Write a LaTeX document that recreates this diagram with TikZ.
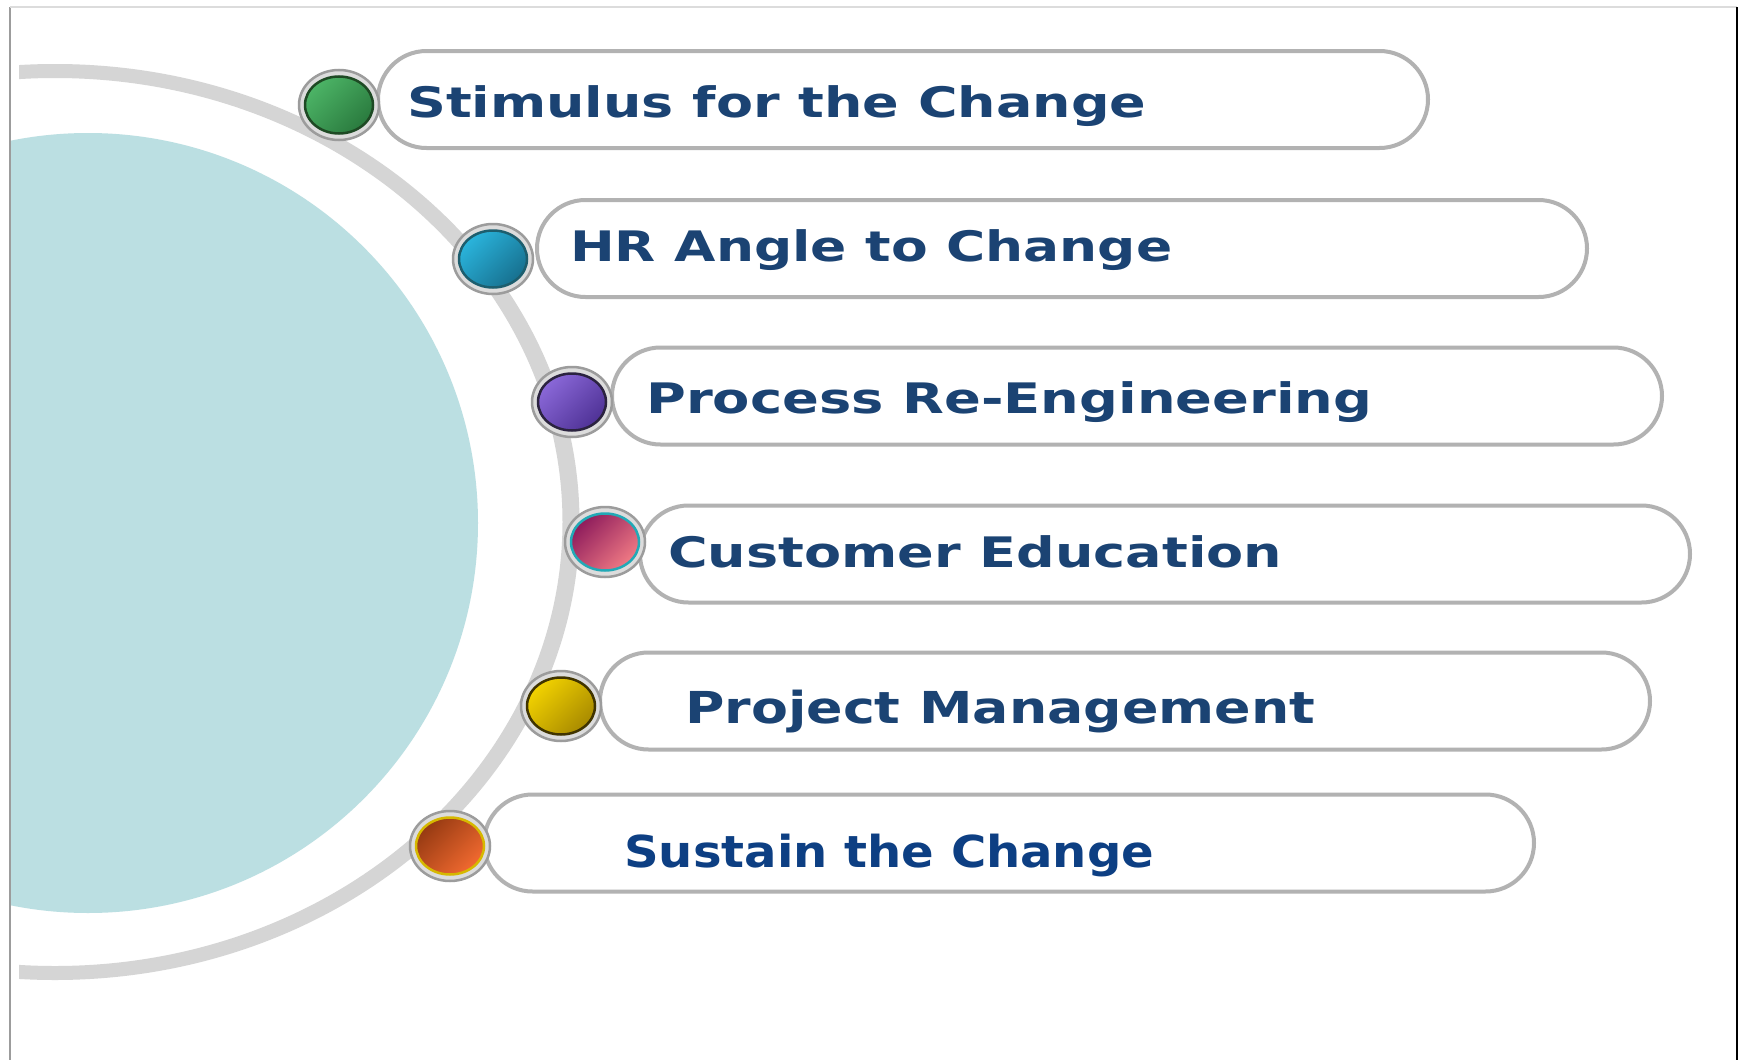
\documentclass[tikz,border=0pt]{standalone}
\usepackage{fontspec}
\usepackage{graphicx}
\setmainfont{DejaVu Sans}
\usetikzlibrary{shapes.geometric,shapes.misc}

\definecolor{discteal}{HTML}{BBDFE2}
\definecolor{arcgray}{HTML}{D5D5D5}
\definecolor{pillgray}{HTML}{B2B2B2}
\definecolor{ringfill}{HTML}{DCDCDC}
\definecolor{ringedge}{HTML}{9C9C9C}
\definecolor{navy}{HTML}{1B4373}
\definecolor{navyb}{HTML}{0D3F83}
% bullet colours: light, dark, rim
\definecolor{gA}{HTML}{4CB466}\definecolor{gB}{HTML}{2A7A3E}\definecolor{gR}{HTML}{1E4A24}
\definecolor{bA}{HTML}{2AB4DC}\definecolor{bB}{HTML}{17708F}\definecolor{bR}{HTML}{1D5E6E}
\definecolor{vA}{HTML}{8A68D8}\definecolor{vB}{HTML}{4F3296}\definecolor{vR}{HTML}{2B2340}
\definecolor{mA}{HTML}{8E1C5C}\definecolor{mB}{HTML}{F07A84}\definecolor{mR}{HTML}{22A9B6}
\definecolor{yA}{HTML}{F2D200}\definecolor{yB}{HTML}{A88A00}\definecolor{yR}{HTML}{403400}
\definecolor{oA}{HTML}{963A12}\definecolor{oB}{HTML}{F26A30}\definecolor{oR}{HTML}{D6B800}

% stretch a label horizontally to a given width, keeping its height
\newcommand{\fitw}[2]{\resizebox{#1}{\height}{#2}}

\tikzset{
  pill/.style={rounded rectangle, draw=pillgray, line width=4pt, fill=white,
    minimum width=1050pt, minimum height=97pt, inner sep=0pt},
  ring/.style={ellipse, fill=ringfill, draw=ringedge, line width=2.5pt,
    minimum width=80pt, minimum height=70pt, inner sep=0pt},
  ball/.style n args={3}{ellipse, minimum width=68pt, minimum height=57pt,
    inner sep=0pt, draw=#3, line width=2.5pt,
    top color=#1, bottom color=#2, shading angle=45},
  lbl/.style={anchor=base west, inner sep=0pt, text=navy,
    font=\bfseries\fontsize{42}{50}\selectfont},
  lblb/.style={lbl, font=\bfseries\fontsize{44}{52}\selectfont},
}

\begin{document}
\begin{tikzpicture}[x=1pt, y=-1pt]
  \useasboundingbox (0,0) rectangle (1741,1060);
  \fill[white] (0,0) rectangle (1741,1060);

  % pale disc on the left
  \begin{scope}
    \clip (10,0) rectangle (1741,1060);
    \fill[discteal] (88,523) circle[radius=390pt];
  \end{scope}

  % grey guide arc
  \begin{scope}
    \clip (19,0) rectangle (1741,1060);
    \fill[arcgray, even odd rule]
      (55,522) ellipse[x radius=524.5pt, y radius=458pt]
      (55,522) ellipse[x radius=507.5pt, y radius=444pt];
  \end{scope}

  % frame
  \draw[draw=ringedge, line width=2.5pt] (10,7) -- (10,1060);
  \draw[draw=ringfill, line width=1.5pt] (10,7) -- (1737,7);
  \draw[draw=black, line width=2pt] (1737,7) -- (1737,1060);

  % label bars
  \node[pill] (p1) at (378+525, 99.5) {};
  \node[pill] (p2) at (537+525, 248.5) {};
  \node[pill] (p3) at (612+525, 396) {};
  \node[pill] (p4) at (640+525, 554) {};
  \node[pill] (p5) at (600+525, 701) {};
  \node[pill] (p6) at (484+525, 843) {};

  % bullets
  \node[ring] (r1) at (339,105) {};
  \node[ball={gA}{gB}{gR}] (d1) at (r1.center) {};
  \node[ring] (r2) at (493,259) {};
  \node[ball={bA}{bB}{bR}] (d2) at (r2.center) {};
  \node[ring] (r3) at (572,402) {};
  \node[ball={vA}{vB}{vR}] (d3) at (r3.center) {};
  \node[ring] (r4) at (605,542) {};
  \node[ball={mA}{mB}{mR}] (d4) at (r4.center) {};
  \node[ring] (r5) at (561,706) {};
  \node[ball={yA}{yB}{yR}] (d5) at (r5.center) {};
  \node[ring] (r6) at (450,846) {};
  \node[ball={oA}{oB}{oR}] (d6) at (r6.center) {};

  % labels
  \node[lbl] (t1) at (407,117) {\fitw{739pt}{Stimulus for the Change}};
  \node[lbl] (t2) at (570,261) {\fitw{602pt}{HR Angle to Change}};
  \node[lbl] (t3) at (646,413) {\fitw{726pt}{Process Re-Engineering}};
  \node[lbl] (t4) at (668,567) {\fitw{614pt}{Customer Education}};
  \node[lblb] (t5) at (685,723) {\fitw{630pt}{Project Management}};
  \node[lblb, text=navyb] (t6) at (624,867) {\fitw{530pt}{Sustain the Change}};
\end{tikzpicture}
\end{document}
